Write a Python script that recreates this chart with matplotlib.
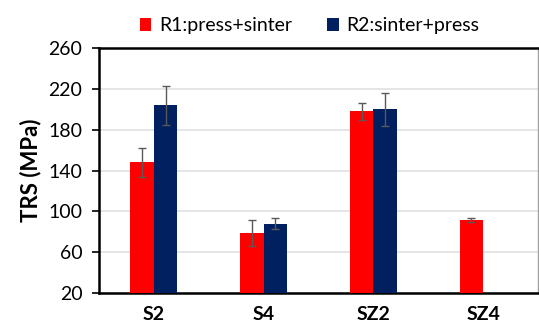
import numpy as np
import matplotlib.pyplot as plt

plt.rcParams['font.family'] = ['Lato', 'DejaVu Sans']

# TRS results per sample, two processing routes
samples = ['S2', 'S4', 'SZ2', 'SZ4']
r1_mean = [148, 79, 198, 91.5]
r1_err = [14, 12.5, 8.5, 1.5]
r2_mean = [204, 88, 200, np.nan]
r2_err = [19, 5, 16, np.nan]

fig = plt.figure(figsize=(5.39, 3.26), dpi=100)
ax = fig.add_axes([0.1837, 0.1012, 0.8145, 0.7515])

x = np.arange(len(samples))
w = 0.214
ekw = dict(ecolor='#595959', elinewidth=1.0, capsize=3, capthick=1.0)
ax.bar(x - w / 2, r1_mean, w, yerr=r1_err, color='#FF0000', label='R1:press+sinter',
       error_kw=ekw, zorder=3)
ax.bar(x + w / 2, r2_mean, w, yerr=r2_err, color='#002060', label='R2:sinter+press',
       error_kw=ekw, zorder=3)

ax.set_xlim(-0.5, 3.5)
ax.set_ylim(20, 260)
ax.set_yticks(np.arange(20, 261, 40))
ax.set_xticks(x)
ax.set_xticklabels(samples, fontsize=14, fontweight='bold')
ax.tick_params(axis='x', length=0, pad=9)
ax.tick_params(axis='y', labelsize=14, length=5, width=1.2, direction='out', pad=7)
ax.yaxis.grid(True, color='#E0E0E0', linewidth=1.2, zorder=0)

for s in ['left', 'bottom', 'top']:
    ax.spines[s].set_linewidth(1.8)
    ax.spines[s].set_color('black')
ax.spines['right'].set_color('#A0A0A0')
ax.spines['right'].set_linewidth(1.0)

ax.set_ylabel('TRS (MPa)', fontsize=16, fontweight='bold', labelpad=5)

ax.legend(loc='lower center', bbox_to_anchor=(0.48, 1.0), ncol=2, frameon=False,
          fontsize=14, handlelength=0.6, handleheight=0.6, handletextpad=0.4,
          columnspacing=1.8, borderaxespad=0.3)

fig.savefig('out.png', dpi=100)
